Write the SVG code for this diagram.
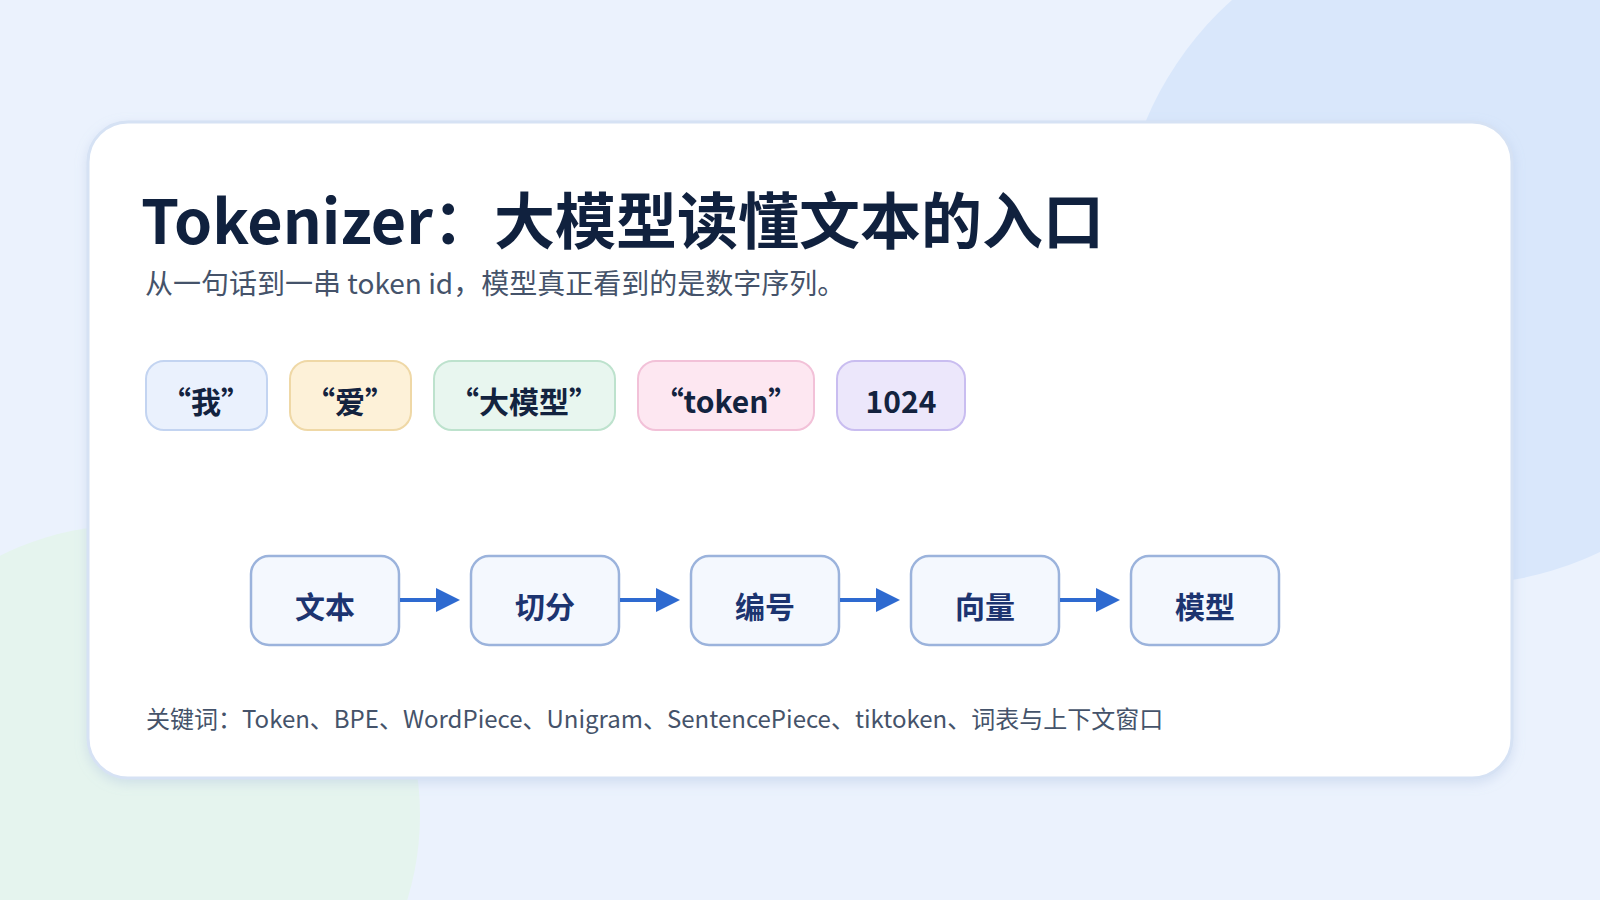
<svg xmlns="http://www.w3.org/2000/svg" width="1600" height="900" viewBox="0 0 1600 900">
<style>
text{font-family:"Noto Sans CJK SC","Noto Sans",sans-serif}
.chip{stroke-width:2}
.ct{font-size:30px;font-weight:700;fill:#13233f;text-anchor:middle}
.box{fill:#f4f8fe;stroke:#9bb3dc;stroke-width:2.5}
.bt{font-size:30px;font-weight:700;fill:#1c3470;text-anchor:middle}
.ar{stroke:#2e6ad0;stroke-width:4;fill:none;marker-end:url(#ah)}
</style>
<defs>
<marker id="ah" markerWidth="6" markerHeight="6" refX="5" refY="3" orient="auto" markerUnits="strokeWidth"><path d="M0,0 L6,3 L0,6 Z" fill="#2e6ad0"/></marker>
<filter id="sh" x="-5%" y="-5%" width="110%" height="115%"><feDropShadow dx="0" dy="4" stdDeviation="6" flood-color="#9bb0d8" flood-opacity="0.3"/></filter>
</defs>
<rect width="1600" height="900" fill="#ebf2fd"/>
<circle cx="1455" cy="250" r="335" fill="#d9e7fb"/>
<circle cx="130" cy="815" r="290" fill="#e5f4ee"/>
<rect x="88" y="122" width="1424" height="656" rx="40" fill="#fff" stroke="#d6e2f4" stroke-width="3" filter="url(#sh)"/>
<text x="141" y="244" font-size="61" font-weight="700" fill="#10213e">Tokenizer：大模型读懂文本的入口</text>
<text x="145" y="294" font-size="28" fill="#45536a">从一句话到一串 token id，模型真正看到的是数字序列。</text>
<g id="chip1"><rect class="chip" x="146" y="361" width="121" height="69" rx="18" fill="#eaf1fd" stroke="#c3d4f1"/><text class="ct" x="206" y="413">“我”</text></g>
<g id="chip2"><rect class="chip" x="290" y="361" width="121" height="69" rx="18" fill="#fdf1d8" stroke="#efd8a6"/><text class="ct" x="350" y="413">“爱”</text></g>
<g id="chip3"><rect class="chip" x="434" y="361" width="181" height="69" rx="18" fill="#e8f6ef" stroke="#bde2cd"/><text class="ct" x="524" y="413">“大模型”</text></g>
<g id="chip4"><rect class="chip" x="638" y="361" width="176" height="69" rx="18" fill="#fde7f1" stroke="#f2c1d8"/><text class="ct" x="726" y="413">“token”</text></g>
<g id="chip5"><rect class="chip" x="837" y="361" width="128" height="69" rx="18" fill="#ece7fb" stroke="#c9bdf0"/><text class="ct" x="901" y="413">1024</text></g>
<g id="n1"><rect class="box" x="251" y="556" width="148" height="89" rx="18"/><text class="bt" x="325" y="618">文本</text></g>
<g id="n2"><rect class="box" x="471" y="556" width="148" height="89" rx="18"/><text class="bt" x="545" y="618">切分</text></g>
<g id="n3"><rect class="box" x="691" y="556" width="148" height="89" rx="18"/><text class="bt" x="765" y="618">编号</text></g>
<g id="n4"><rect class="box" x="911" y="556" width="148" height="89" rx="18"/><text class="bt" x="985" y="618">向量</text></g>
<g id="n5"><rect class="box" x="1131" y="556" width="148" height="89" rx="18"/><text class="bt" x="1205" y="618">模型</text></g>
<g id="connectors">
<line class="ar" x1="400" y1="600" x2="456" y2="600"/>
<line class="ar" x1="620" y1="600" x2="676" y2="600"/>
<line class="ar" x1="840" y1="600" x2="896" y2="600"/>
<line class="ar" x1="1060" y1="600" x2="1116" y2="600"/>
</g>
<text x="146" y="728" font-size="24" fill="#45536a">关键词：Token、BPE、WordPiece、Unigram、SentencePiece、tiktoken、词表与上下文窗口</text>
</svg>
